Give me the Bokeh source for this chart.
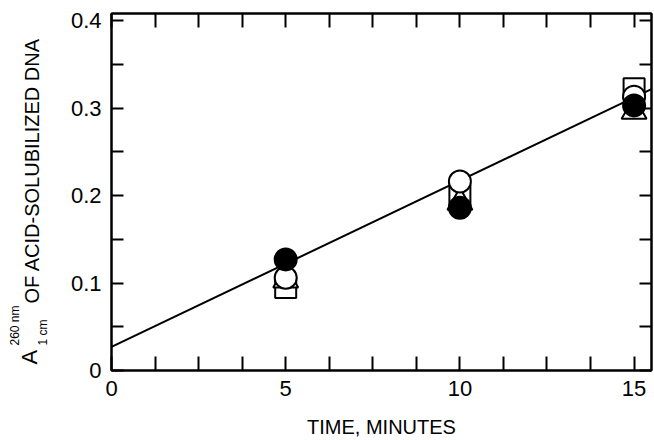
import math
from bokeh.plotting import figure
from bokeh.models import Range1d, FixedTicker, LinearAxis, ColumnDataSource
from bokeh.layouts import row
from bokeh.core.properties import value
from bokeh.embed import file_html
from bokeh.resources import INLINE

# ---- data ----
times = [5, 10, 15]
open_squares = [0.095, 0.200, 0.322]
open_triangles = [0.103, 0.192, 0.296]
open_circles = [0.106, 0.216, 0.313]
filled_circles = [0.127, 0.186, 0.303]

fit_x = [0, 15.5]
fit_y = [0.027, 0.3215]

x_ticks = [0, 1.25, 2.5, 3.75, 5, 6.25, 7.5, 8.75, 10, 11.25, 12.5, 13.75, 15]
x_labels = {0: "0", 5: "5", 10: "10", 15: "15"}
y_ticks = [0, 0.05, 0.1, 0.15, 0.2, 0.25, 0.3, 0.35, 0.4]
y_labels = {0: "0", 0.1: "0.1", 0.2: "0.2", 0.3: "0.3", 0.4: "0.4"}

y_title_parts = ["A", "260 nm", "1 cm", "OF  ACID-SOLUBILIZED  DNA"]

FONT = "Liberation Sans"
LEFT_W = 60
TOP, BOTTOM = 13, 70

p = figure(width=654 - LEFT_W, height=440, output_backend="svg", toolbar_location=None,
           title=None,
           x_range=Range1d(0, 15.5), y_range=Range1d(0, 0.408),
           min_border_left=111 - LEFT_W, min_border_right=3, min_border_top=TOP,
           min_border_bottom=BOTTOM)
p.grid.visible = False
p.background_fill_color = "white"
p.border_fill_color = "white"
p.outline_line_color = "black"
p.outline_line_width = 2


def style_axis(ax, ticks, labels, tick_len, show_labels):
    ax.ticker = FixedTicker(ticks=ticks)
    ax.major_label_overrides = {t: (labels.get(t, "") if show_labels else "") for t in ticks}
    ax.major_tick_in = tick_len
    ax.major_tick_out = 0
    ax.minor_tick_in = 0
    ax.minor_tick_out = 0
    ax.major_tick_line_color = "black"
    ax.major_tick_line_width = 2
    ax.axis_line_color = "black"
    ax.axis_line_width = 2
    ax.major_label_text_font = FONT
    ax.major_label_text_font_size = "22px" if show_labels else "0px"
    ax.major_label_text_color = "black"


xax = p.xaxis[0]
style_axis(xax, x_ticks, x_labels, 14, True)
xax.major_label_standoff = 10
xax.axis_label = "TIME, MINUTES"
xax.axis_label_text_font = FONT
xax.axis_label_text_font_size = "20px"
xax.axis_label_text_font_style = "normal"
xax.axis_label_text_color = "black"
xax.axis_label_standoff = 17

yax = p.yaxis[0]
style_axis(yax, y_ticks, y_labels, 12, True)
yax.major_label_standoff = 10

top_ax = LinearAxis()
style_axis(top_ax, x_ticks, x_labels, 14, False)
top_ax.major_label_standoff = 0
p.add_layout(top_ax, "above")

right_ax = LinearAxis()
style_axis(right_ax, y_ticks, y_labels, 12, False)
right_ax.major_label_standoff = 0
p.add_layout(right_ax, "right")

# fitted line
p.line(fit_x, fit_y, line_color="black", line_width=2)

# markers
p.scatter(times, open_squares, marker="square", size=21, fill_color="white",
          line_color="black", line_width=2)
p.scatter(times, open_triangles, marker="triangle", size=25, fill_color="white",
          line_color="black", line_width=2)
p.scatter(times, open_circles, marker="circle", size=22, fill_color="white",
          line_color="black", line_width=2)
p.scatter(times, filled_circles, marker="circle", size=22, fill_color="black",
          line_color="black", line_width=2)

# ---- narrow left panel holding the rotated y-axis title ----
frame_h = 440 - TOP - BOTTOM
t = figure(width=LEFT_W, height=440, output_backend="svg",
           toolbar_location=None, title=None,
           x_range=Range1d(0, LEFT_W), y_range=Range1d(0, frame_h),
           x_axis_type=None, y_axis_type=None,
           min_border=0, min_border_left=0, min_border_right=0,
           min_border_top=TOP, min_border_bottom=BOTTOM)
t.grid.visible = False
t.outline_line_color = None
t.background_fill_color = "white"
t.border_fill_color = "white"

# anchor x (px from left) and start y (px from top of page) of each part
part_bx = [29, 14, 42, 31]
part_by = [364, 345, 345, 303]
part_fs = ["22px", "12px", "12px", "20px"]
src = ColumnDataSource(dict(text=y_title_parts, x=part_bx,
                            y=[440 - BOTTOM - v for v in part_by], fs=part_fs))
t.text(x="x", y="y", text="text", source=src, angle=math.pi / 2,
       text_align="left", text_baseline="alphabetic",
       text_font=value(FONT), text_font_size="fs", text_color="black")

layout = row(t, p, spacing=0)
open("out.html", "w").write(file_html(layout, INLINE))
